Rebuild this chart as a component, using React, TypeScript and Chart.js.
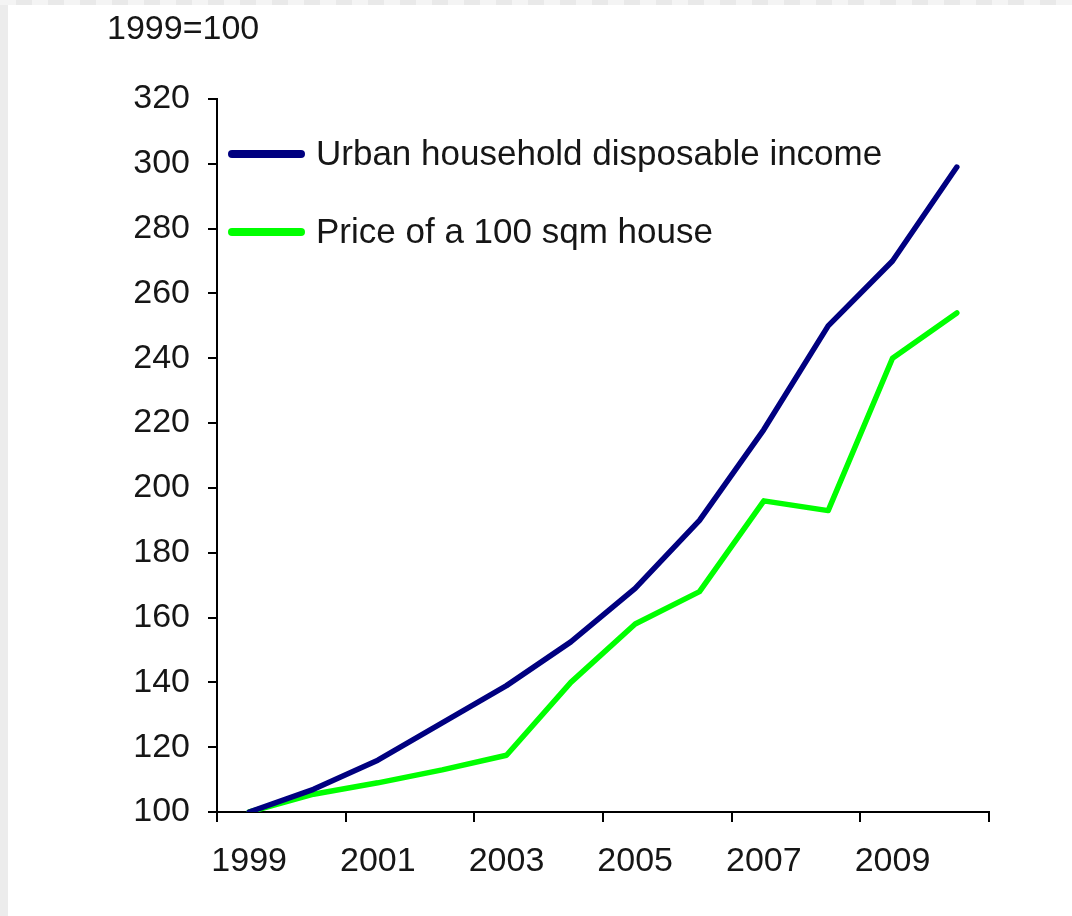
import { useEffect, useRef } from 'react';
import { Chart, registerables } from 'chart.js';

Chart.register(...registerables);

const years = ['1999', '2000', '2001', '2002', '2003', '2004', '2005', '2006', '2007', '2008', '2009', '2010'];
const incomeIndex = [100, 107, 116, 127.5, 139, 152.5, 169, 190, 218, 250, 270, 299];
const housePriceIndex = [100, 105.5, 109, 113, 117.5, 140, 158, 168, 196, 193, 240, 254];
const seriesLabels = ['Urban household disposable income', 'Price of a 100 sqm house'];
const seriesColors = ['#000080', '#00ff00'];
const yMin = 100;
const yMax = 320;
const yStep = 20;
const unitLabel = '1999=100';

const FONT = '"Liberation Sans", Arial, sans-serif';
const TEXT = '#161616';

const overlayPlugin = {
  id: 'overlay',
  afterDatasetsDraw(chart: any) {
    const { ctx, chartArea } = chart;
    ctx.save();
    ctx.fillStyle = TEXT;
    ctx.font = `34px ${FONT}`;
    ctx.textAlign = 'left';
    ctx.textBaseline = 'alphabetic';
    ctx.fillText(unitLabel, chartArea.left - 110, 34);

    chart.data.datasets.forEach((ds: any, i: number) => {
      const y = chartArea.top + 55 + i * 78;
      const x0 = chartArea.left + 11;
      ctx.strokeStyle = ds.borderColor;
      ctx.lineWidth = 8;
      ctx.lineCap = 'round';
      ctx.beginPath();
      ctx.moveTo(x0 + 4, y);
      ctx.lineTo(x0 + 73, y);
      ctx.stroke();
      ctx.fillStyle = TEXT;
      ctx.font = `35px ${FONT}`;
      ctx.textBaseline = 'middle';
      ctx.fillText(ds.label, x0 + 88, y + 1);
    });
    ctx.restore();
  },
};

export default function App() {
  const ref = useRef<HTMLCanvasElement>(null);

  useEffect(() => {
    document.body.style.margin = '0';
    const chart = new Chart(ref.current!, {
      type: 'line',
      data: {
        labels: years,
        datasets: [
          {
            label: seriesLabels[0],
            data: incomeIndex,
            borderColor: seriesColors[0],
            backgroundColor: seriesColors[0],
            borderWidth: 5.5,
            pointRadius: 0,
            tension: 0,
            borderJoinStyle: 'round',
            borderCapStyle: 'round',
          },
          {
            label: seriesLabels[1],
            data: housePriceIndex,
            borderColor: seriesColors[1],
            backgroundColor: seriesColors[1],
            borderWidth: 5.5,
            pointRadius: 0,
            tension: 0,
            borderJoinStyle: 'round',
            borderCapStyle: 'round',
          },
        ],
      },
      options: {
        animation: false,
        responsive: false,
        devicePixelRatio: 1,
        layout: { padding: { left: 0, top: 94, right: 83, bottom: 0 } },
        plugins: {
          legend: { display: false },
          tooltip: { enabled: false },
          title: { display: false },
        },
        scales: {
          x: {
            type: 'category',
            offset: true,
            grid: {
              offset: true,
              drawOnChartArea: false,
              drawTicks: true,
              tickLength: 10,
              lineWidth: 2,
              color: (ctx: any) =>
                ctx.index === undefined || ctx.index % 2 === 0 ? '#000' : 'rgba(0,0,0,0)',
            },
            border: { display: true, color: '#000', width: 2 },
            ticks: {
              autoSkip: false,
              maxRotation: 0,
              minRotation: 0,
              padding: 19,
              color: TEXT,
              font: { family: FONT, size: 34 },
              callback: (_v: any, i: number) => (i % 2 === 0 ? years[i] : ''),
            },
            afterFit: (s: any) => {
              s.height = 104;
            },
          },
          y: {
            min: yMin,
            max: yMax,
            grid: {
              drawOnChartArea: false,
              drawTicks: true,
              tickLength: 9,
              lineWidth: 2,
              color: '#000',
            },
            border: { display: true, color: '#000', width: 2 },
            ticks: {
              stepSize: yStep,
              padding: 18,
              color: TEXT,
              font: { family: FONT, size: 34 },
            },
            afterFit: (s: any) => {
              s.width = 209;
            },
          },
        },
      },
      plugins: [overlayPlugin],
    });
    return () => chart.destroy();
  }, []);

  return (
    <div
      style={{
        position: 'absolute',
        left: 0,
        top: 0,
        width: 1072,
        height: 916,
        background: '#ececec',
        overflow: 'hidden',
      }}
    >
      <div
        style={{
          position: 'absolute',
          left: 0,
          top: 0,
          width: 1072,
          height: 5,
          background: 'repeating-linear-gradient(90deg, #f4f4f4 0px, #f4f4f4 16px, #e9e9e9 16px, #e9e9e9 32px)',
        }}
      />
      <div style={{ position: 'absolute', left: 8, top: 5, width: 1064, height: 911, background: '#fff' }}>
        <canvas ref={ref} width={1064} height={911} style={{ display: 'block', width: 1064, height: 911 }} />
      </div>
    </div>
  );
}
